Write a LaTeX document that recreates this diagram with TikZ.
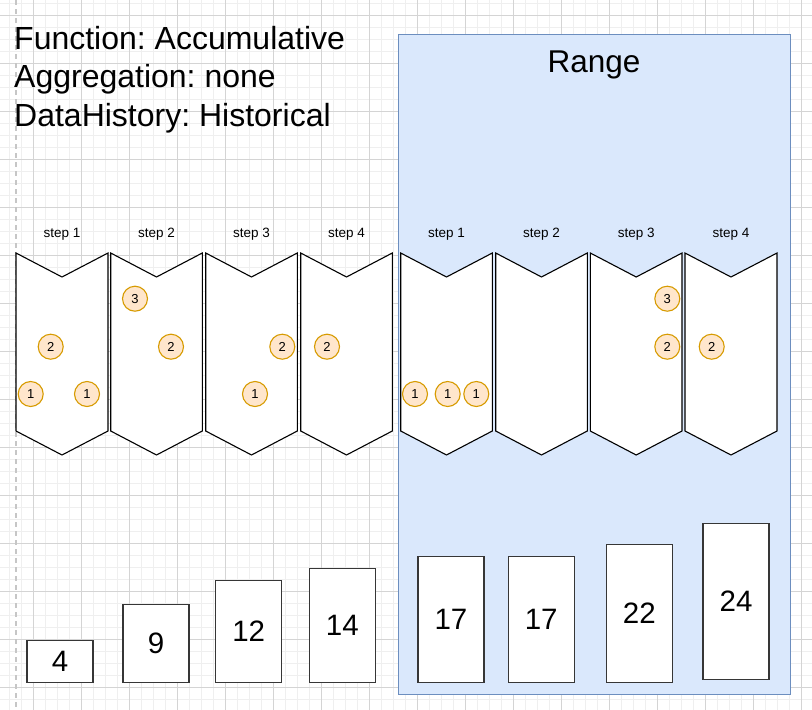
\documentclass[tikz,border=0pt]{standalone}
\usepackage{fontspec}
\setmainfont{Liberation Sans}
\frenchspacing

\definecolor{rangefill}{HTML}{DAE8FC}
\definecolor{rangeline}{HTML}{6C8EBF}
\definecolor{dotfill}{HTML}{FFE6CC}
\definecolor{dotline}{HTML}{D79B00}
\definecolor{gridmajor}{HTML}{D4D4D4}
\definecolor{gridminor}{HTML}{EFEFEF}
\definecolor{barline}{HTML}{363636}

\tikzset{
    chev/.style={draw=black, fill=white, line width=1.1pt, line join=miter},
    steplabel/.style={anchor=base, inner sep=0pt, font=\fontsize{13.5}{16}\selectfont},
    dot/.style={circle, draw=dotline, fill=dotfill, line width=1.1pt, minimum size=25pt, inner sep=0pt, font=\fontsize{13}{15}\selectfont},
    bar/.style={draw=barline, fill=white, line width=1.1pt, minimum width=66pt, inner sep=0pt, anchor=south, font=\fontsize{29.5}{32}\selectfont},
    bigtext/.style={anchor=base west, inner sep=0pt, font=\fontsize{32}{36}\selectfont},
}

\begin{document}
\begin{tikzpicture}[x=1pt, y=-1pt]
        \useasboundingbox (0,0) rectangle (812,710);
        \clip (0,0) rectangle (812,710);
        \fill[white] (0,0) rectangle (812,710);

        % background grid
        \begin{scope}[shift={(33,15)}, y=1pt]
            \draw[gridminor, line width=0.8pt, step=12] (-48,-768) grid (800,48);
            \draw[gridmajor, line width=0.8pt, step=48] (-48,-768) grid (800,48);
        \end{scope}
        \draw[gray!45, line width=1.2pt, dash pattern=on 5pt off 4pt] (16,0) -- (16,710);

        % range
        \draw[fill=rangefill, draw=rangeline, line width=1pt] (398,34) rectangle (790,694);
        \node[anchor=base, inner sep=0pt, font=\fontsize{31.5}{36}\selectfont] (rangelabel) at (594,72.7) {Range};

        \node[bigtext] (func) at (14,49) {Function: Accumulative};
        \node[bigtext] (aggr) at (14,87.5) {Aggregation: none};
        \node[bigtext] (hist) at (14,126) {DataHistory: Historical};

        % steps
        \draw[chev] (16,253) -- (62,277) -- (108,253) -- (108,431) -- (62,455) -- (16,431) -- cycle;
        \draw[chev] (110.7,253) -- (156.5,277) -- (202.3,253) -- (202.3,431) -- (156.5,455) -- (110.7,431) -- cycle;
        \draw[chev] (205.7,253) -- (251.5,277) -- (297.3,253) -- (297.3,431) -- (251.5,455) -- (205.7,431) -- cycle;
        \draw[chev] (300.7,253) -- (346.5,277) -- (392.3,253) -- (392.3,431) -- (346.5,455) -- (300.7,431) -- cycle;
        \draw[chev] (400.7,253) -- (446.5,277) -- (492.3,253) -- (492.3,431) -- (446.5,455) -- (400.7,431) -- cycle;
        \draw[chev] (495.7,253) -- (541.5,277) -- (587.3,253) -- (587.3,431) -- (541.5,455) -- (495.7,431) -- cycle;
        \draw[chev] (590.3,253) -- (636.2,277) -- (682,253) -- (682,431) -- (636.2,455) -- (590.3,431) -- cycle;
        \draw[chev] (685,253) -- (731,277) -- (777,253) -- (777,431) -- (731,455) -- (685,431) -- cycle;

        \node[steplabel] (s1) at (62,237) {step 1};
        \node[steplabel] (s2) at (156.5,237) {step 2};
        \node[steplabel] (s3) at (251.5,237) {step 3};
        \node[steplabel] (s4) at (346.5,237) {step 4};
        \node[steplabel] (r1) at (446.5,237) {step 1};
        \node[steplabel] (r2) at (541.5,237) {step 2};
        \node[steplabel] (r3) at (636.2,237) {step 3};
        \node[steplabel] (r4) at (731,237) {step 4};

        % data points
        \node[dot] (s1a) at (50.7,346.7) {2};
        \node[dot] (s1b) at (30.7,394) {1};
        \node[dot] (s1c) at (87,394) {1};

        \node[dot] (s2a) at (135,298.7) {3};
        \node[dot] (s2b) at (171,346.7) {2};

        \node[dot] (s3a) at (282.3,346.7) {2};
        \node[dot] (s3b) at (255,394) {1};

        \node[dot] (s4a) at (327,346.7) {2};

        \node[dot] (r1a) at (415,394) {1};
        \node[dot] (r1b) at (447.7,394) {1};
        \node[dot] (r1c) at (476.3,394) {1};

        \node[dot] (r3a) at (667.3,298.7) {3};
        \node[dot] (r3b) at (667.3,346.7) {2};

        \node[dot] (r4a) at (711.7,346.7) {2};

        % totals
        \node[bar, minimum height=42pt] (t1) at (60,682.7) {4};
        \node[bar, minimum height=78pt] (t2) at (156,682.7) {9};
        \node[bar, minimum height=102pt] (t3) at (248.7,682.7) {12};
        \node[bar, minimum height=114pt] (t4) at (342.3,682.7) {14};
        \node[bar, minimum height=126pt] (t5) at (451,682.7) {17};
        \node[bar, minimum height=126pt] (t6) at (541.2,682.7) {17};
        \node[bar, minimum height=138pt] (t7) at (639.3,682.7) {22};
        \node[bar, minimum height=155.7pt] (t8) at (736,680) {24};
    \end{tikzpicture}
\end{document}
